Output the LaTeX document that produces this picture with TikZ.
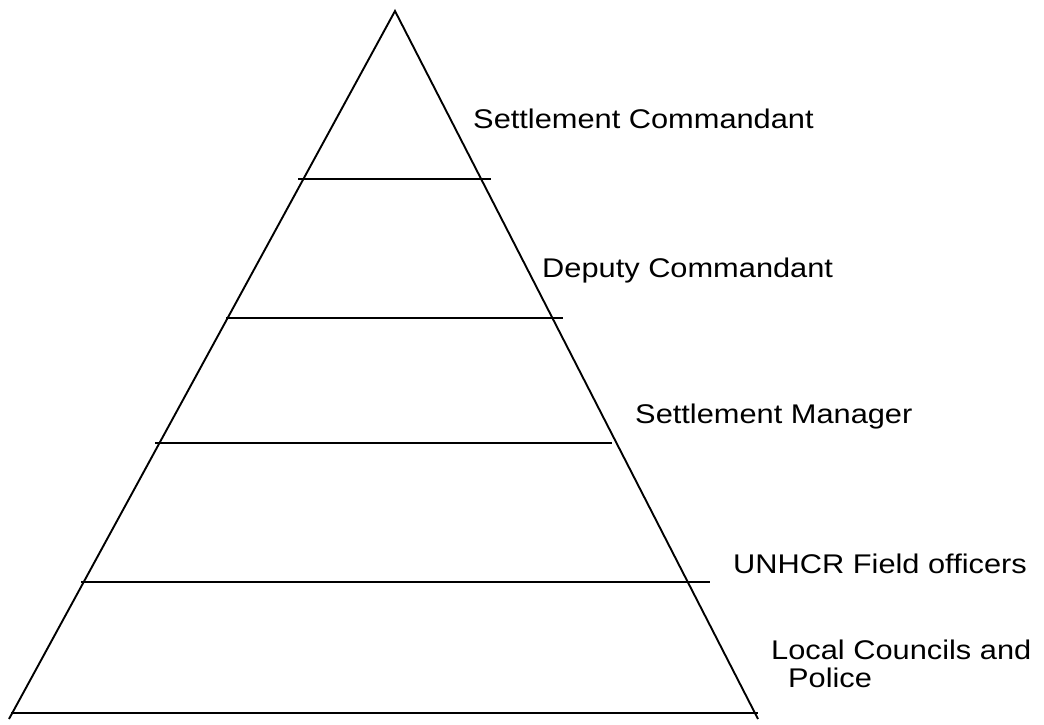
\documentclass[tikz,border=0pt]{standalone}
\usepackage{fontspec}
\setmainfont{Liberation Sans}
\usetikzlibrary{positioning}
\tikzset{
    tier/.style={line width=1.9pt},
    side/.style={line width=1.9pt},
    rank/.style={anchor=base west,inner sep=0pt,font=\fontsize{27}{28}\selectfont,align=left,xscale=1.14,transform shape}
}

\begin{document}
\begin{tikzpicture}[x=1pt,y=-1pt]
    \useasboundingbox (0,0) rectangle (1044,724);

    % corners of the pyramid
    \coordinate (apex)  at (395,11);
    \coordinate (foot left)  at (9,719);
    \coordinate (foot right) at (758,719);

    \draw[side] (foot left) -- (apex) -- (foot right);

    % tier lines
    \coordinate (t1 l) at (298,179);  \coordinate (t1 r) at (491,179);
    \coordinate (t2 l) at (226,318);  \coordinate (t2 r) at (563,318);
    \coordinate (t3 l) at (155,443);  \coordinate (t3 r) at (612,443);
    \coordinate (t4 l) at (81,582);   \coordinate (t4 r) at (710,582);
    \coordinate (t5 l) at (11,713);   \coordinate (t5 r) at (758,713);

    \draw[tier] (t1 l) -- (t1 r);
    \draw[tier] (t2 l) -- (t2 r);
    \draw[tier] (t3 l) -- (t3 r);
    \draw[tier] (t4 l) -- (t4 r);
    \draw[tier] (t5 l) -- (t5 r);

    % ranks
    \node[rank] (commandant) at (473,128) {Settlement Commandant};
    \node[rank] (deputy)     at (542,277) {Deputy Commandant};
    \node[rank] (manager)    at (635,423) {Settlement Manager};
    \node[rank] (unhcr)      at (733,573) {UNHCR Field officers};
    \node[rank] (councils)   at (771,687) {Local Councils and\\ \hspace*{0.55em}Police};

\end{tikzpicture}
\end{document}
